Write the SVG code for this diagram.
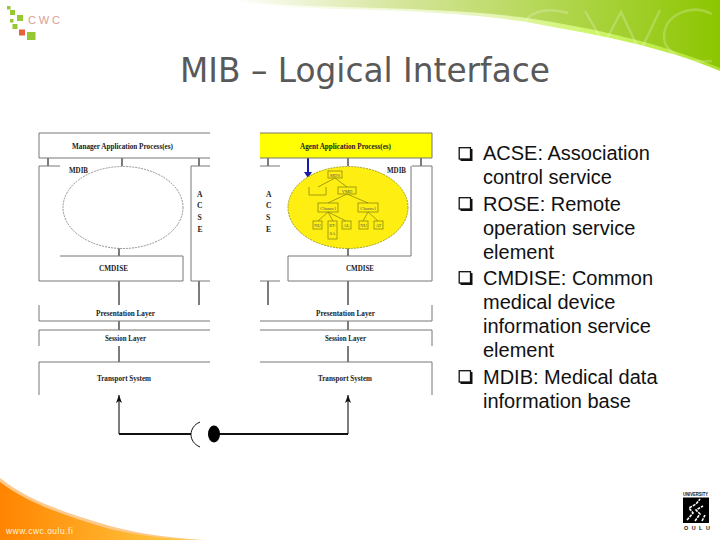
<svg xmlns="http://www.w3.org/2000/svg" width="720" height="540" viewBox="0 0 720 540">
<style>
.b{fill:none;stroke:#777;stroke-width:1}
.k{stroke:#111;stroke-width:1.1;fill:none}
.t{font-family:"Liberation Serif",serif;font-weight:bold;fill:#222;text-anchor:middle}
.s{font-size:8.4px}
.m{font-size:9px}
.a{font-size:7.6px;text-anchor:start}
.n{fill:none;stroke:#8a8a10;stroke-width:.8}
.r{font-family:"Liberation Sans",sans-serif;font-size:20px;fill:#111}
.q{fill:#fff;stroke:#111;stroke-width:1.3}
.g{fill:#96c832}
</style>
<defs>
<linearGradient id="gt" x1="230" y1="0" x2="720" y2="0" gradientUnits="userSpaceOnUse"><stop offset="0" stop-color="#fff"/><stop offset=".35" stop-color="#d5e59a"/><stop offset="1" stop-color="#8cc600"/></linearGradient>
<linearGradient id="gs" x1="230" y1="0" x2="720" y2="0" gradientUnits="userSpaceOnUse"><stop offset="0" stop-color="#fff"/><stop offset=".5" stop-color="#e8f5c0"/><stop offset=".75" stop-color="#cdf566"/><stop offset="1" stop-color="#b0e030"/></linearGradient>
<linearGradient id="go" x1="0" y1="0" x2="200" y2="0" gradientUnits="userSpaceOnUse"><stop offset="0" stop-color="#ff8400"/><stop offset="1" stop-color="#ffd24a"/></linearGradient>
<marker id="ah" viewBox="0 0 8 8" refX="8" refY="4" markerWidth="8" markerHeight="8" markerUnits="userSpaceOnUse" orient="auto"><path d="M8 4L0 1L2 4L0 7Z" fill="#111"/></marker>
<g id="box"><path d="M2 2H14V14H2Z" fill="#111"/><rect class="q" x="0.700" y="0.700" width="11.300" height="11.300"/></g>
</defs>
<g id="background">
<path d="M230 0H720V71C660 46 600 35 520 21C470 14 420 11 340 9C300 8 260 6 230 0Z" fill="url(#gs)"/>
<path d="M230 0H720V68C660 43 600 29 520 17C470 11 420 9 340 7C300 6 260 4 230 0Z" fill="url(#gt)"/>
<g fill="none" stroke="#fff" stroke-opacity=".22" stroke-width="2.5">
<path d="M568 13C545 6 525 13 524 27"/>
<path d="M585 11L604 44L621 12L640 52L660 10"/>
<path d="M712 14C690 3 664 15 664 37C664 50 680 64 712 61"/>
</g>
<path d="M0 478C30 502 70 514 110 526C140 534 170 538 205 540H0Z" fill="#ffc98c"/>
<path d="M0 482C30 505 70 517 110 529C140 536 170 539 200 540H0Z" fill="url(#go)"/>
<text x="6" y="534" font-family="Liberation Sans,sans-serif" font-size="8.400" letter-spacing=".55" fill="#fff3d8">www.cwc.oulu.fi</text>
</g>
<g id="cwc-logo">
<rect class="g" x="7" y="6" width="3.500" height="3.500"/>
<rect class="g" x="10" y="10" width="5" height="5"/>
<rect class="g" x="17" y="15" width="6" height="6"/>
<rect class="g" x="10" y="19" width="3.500" height="3.500"/>
<rect class="g" x="12.500" y="24" width="5" height="5"/>
<rect x="19" y="29.500" width="6" height="6" fill="#e8603c"/>
<rect class="g" x="27" y="32" width="8.500" height="8"/>
<text x="28" y="24" font-family="Liberation Sans,sans-serif" font-size="11" letter-spacing="2.800" fill="#d9a094">CWC</text>
</g>
<g id="university-logo">
<text x="683" y="496" textLength="25" lengthAdjust="spacingAndGlyphs" font-family="Liberation Sans,sans-serif" font-weight="bold" font-size="6" fill="#111">UNIVERSITY</text>
<rect x="683" y="497.500" width="26" height="25.500" fill="#000"/>
<path d="M687 520L693 513L689 508L696 504L700 499M695 521L700 514L696 510L703 506M702 521L705 515" fill="none" stroke="#fff" stroke-width="1.600" stroke-dasharray="3 1"/>
<text x="684" y="530" font-family="Liberation Sans,sans-serif" font-weight="bold" font-size="5.400" letter-spacing="3.500" fill="#111">OULU</text>
</g>
<text id="title" x="365" y="82" font-family="DejaVu Sans,sans-serif" font-size="32.800" fill="#595959" text-anchor="middle">MIB – Logical Interface</text>
<g id="connectors">
<path class="k" d="M48 158V166M122 158V166M199 158V166M119 248V256M119 281V305M199 281V305M119 321V330M119 346V362"/>
<path class="k" d="M268 158V166M348 158V166M421 158V166M348 248V256M268 281V305M348 281V305M348 321V330M348 346V362"/>
<path class="k" d="M119 434V395" marker-end="url(#ah)"/>
<path class="k" d="M348 434V395" marker-end="url(#ah)"/>
<path d="M119 434H191M214 434H348" fill="none" stroke="#111" stroke-width="1.800"/>
<path d="M200 422C188 427 188 442 200 447" fill="none" stroke="#111" stroke-width="1"/>
<ellipse cx="214" cy="434" rx="6" ry="8.500" fill="#000"/>
<path d="M308 158V172" stroke="#1a1aa8" stroke-width="2" fill="none"/>
<path d="M304 172H312L308 178Z" fill="#1a1aa8"/>
</g>
<g id="manager-process"><path class="b" d="M210 133H39V158H210"/><text class="t s" x="72" y="149" style="text-anchor:start" textLength="101" lengthAdjust="spacingAndGlyphs">Manager Application Process(es)</text></g>
<g id="agent-process"><path d="M260 133H432V158H260Z" fill="#ffff00"/><path class="b" d="M260 133H432V158H260"/><text class="t s" x="300" y="149" style="text-anchor:start" textLength="91" lengthAdjust="spacingAndGlyphs">Agent Application Process(es)</text></g>
<g id="manager-mdib">
<path class="b" d="M60 166H39V281H183V256H60"/>
<text class="t a" x="69" y="173" textLength="19" lengthAdjust="spacingAndGlyphs">MDIB</text>
<ellipse cx="123" cy="207.500" rx="60" ry="41" fill="#fff" stroke="#777" stroke-width=".8" stroke-dasharray="2 1"/>
</g>
<g id="agent-mdib">
<path class="b" d="M412 166H432V281H288V256H411V166"/>
<text class="t a" x="387" y="173" textLength="19" lengthAdjust="spacingAndGlyphs">MDIB</text>
<ellipse cx="348" cy="207.500" rx="60" ry="41" fill="#ffee11" stroke="#8a8a10" stroke-width=".8" stroke-dasharray="2 1"/>
<g class="n">
<path d="M335 178L318 187M335 178L347 187M347 194L328 203M347 194L368 203M328 212L318 221M328 212L333 221M328 212L346 221M368 212L363 221M368 212L378 221"/>
<rect x="328" y="171" width="14" height="7"/>
<path d="M309 187V195H326V187"/>
<rect x="338" y="187" width="18" height="7"/>
<rect x="318" y="203" width="20" height="9"/>
<rect x="358" y="203" width="20" height="9"/>
<rect x="313" y="221" width="9" height="8"/>
<rect x="328" y="221" width="9" height="18"/>
<rect x="342" y="221" width="9" height="8"/>
<rect x="359" y="221" width="9" height="8"/>
<rect x="374" y="221" width="9" height="8"/>
</g>
<g font-family="Liberation Serif,serif" font-size="4.600" fill="#555" text-anchor="middle">
<text x="335" y="176.500">MDS</text><text x="347" y="192.500">VMD</text><text x="328" y="209.500">Channel</text><text x="368" y="209.500">Channel</text><text x="317.500" y="227">NU</text><text x="332.500" y="227">RT-</text><text x="332.500" y="235">SA</text><text x="346.500" y="227">AL</text><text x="363.500" y="227">NU</text><text x="378.500" y="227">AT</text>
</g>
</g>
<g id="manager-cmdise"><text class="t m" x="99" y="271" style="text-anchor:start" textLength="29" lengthAdjust="spacingAndGlyphs">CMDISE</text></g>
<g id="agent-cmdise"><text class="t m" x="346" y="271" style="text-anchor:start" textLength="28" lengthAdjust="spacingAndGlyphs">CMDISE</text></g>
<g id="manager-acse"><path class="b" d="M210 166H191V281H210"/><text class="t a" x="197" y="197">A</text><text class="t a" x="197" y="208">C</text><text class="t a" x="197.500" y="220">S</text><text class="t a" x="197.500" y="232">E</text></g>
<g id="agent-acse"><path class="b" d="M260 166H280M260 281H280"/><text class="t a" x="266" y="197">A</text><text class="t a" x="266" y="208">C</text><text class="t a" x="266" y="220">S</text><text class="t a" x="266" y="232">E</text></g>
<g id="manager-presentation"><path class="b" d="M39 305V321H210"/><text class="t s" x="96" y="316" style="text-anchor:start" textLength="59" lengthAdjust="spacingAndGlyphs">Presentation Layer</text></g>
<g id="agent-presentation"><path class="b" d="M432 305V321H260"/><text class="t s" x="316" y="316" style="text-anchor:start" textLength="59" lengthAdjust="spacingAndGlyphs">Presentation Layer</text></g>
<g id="manager-session"><path class="b" d="M210 330H39V346"/><text class="t s" x="105" y="341" style="text-anchor:start" textLength="41" lengthAdjust="spacingAndGlyphs">Session Layer</text></g>
<g id="agent-session"><path class="b" d="M260 330H432V346"/><text class="t s" x="325" y="341" style="text-anchor:start" textLength="41" lengthAdjust="spacingAndGlyphs">Session Layer</text></g>
<g id="manager-transport"><path class="b" d="M210 362H39V395"/><text class="t s" x="97" y="381" style="text-anchor:start" textLength="54" lengthAdjust="spacingAndGlyphs">Transport System</text></g>
<g id="agent-transport"><path class="b" d="M260 362H432V395"/><text class="t s" x="318" y="381" style="text-anchor:start" textLength="54" lengthAdjust="spacingAndGlyphs">Transport System</text></g>
<g id="bullets">
<use href="#box" x="458.500" y="147"/>
<use href="#box" x="458.500" y="197"/>
<use href="#box" x="458.500" y="271"/>
<use href="#box" x="458.500" y="370"/>
<text class="r" x="483" y="160">ACSE: Association</text>
<text class="r" x="483" y="184">control service</text>
<text class="r" x="483" y="211">ROSE: Remote</text>
<text class="r" x="483" y="235">operation service</text>
<text class="r" x="483" y="259">element</text>
<text class="r" x="483" y="285">CMDISE: Common</text>
<text class="r" x="483" y="309">medical device</text>
<text class="r" x="483" y="333">information service</text>
<text class="r" x="483" y="357">element</text>
<text class="r" x="483" y="384">MDIB: Medical data</text>
<text class="r" x="483" y="408">information base</text>
</g>
</svg>
